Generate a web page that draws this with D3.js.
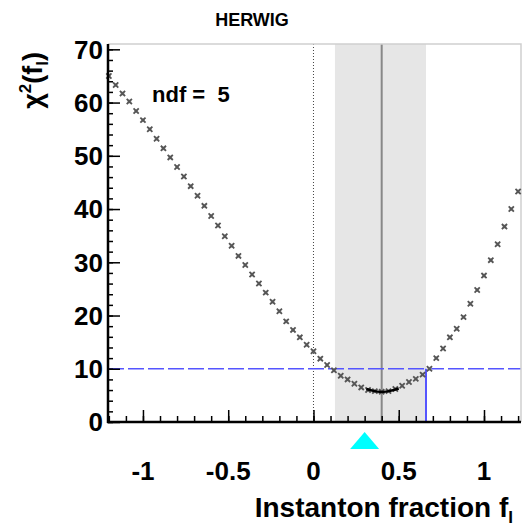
<!doctype html>
<html>
<head>
  <meta charset="utf-8">
  <title>HERWIG chi2 scan</title>
  <style>
    body { margin: 0; background: #fff; }
    text { font-family: 'Liberation Sans', Arial, sans-serif; }
    .tick-label { font-size: 26px; font-weight: bold; fill: #000; }
  </style>
</head>
<body>
  <div id="chart"></div>
  <script src="https://cdnjs.cloudflare.com/ajax/libs/d3/7.8.5/d3.min.js"></script>
  <script>
    // scan points (instanton fraction, chi2)
    var frac = [-1.20, -1.16, -1.12, -1.08, -1.04, -1.00, -0.96, -0.92, -0.88, -0.84,
      -0.80, -0.76, -0.72, -0.68, -0.64, -0.60, -0.56, -0.52, -0.48, -0.44,
      -0.40, -0.36, -0.32, -0.28, -0.24, -0.20, -0.16, -0.12, -0.08, -0.04,
      0.00, 0.04, 0.08, 0.12, 0.16, 0.20, 0.24, 0.28, 0.32, 0.36,
      0.40, 0.44, 0.48, 0.52, 0.56, 0.60, 0.64, 0.68, 0.72, 0.76,
      0.80, 0.84, 0.88, 0.92, 0.96, 1.00, 1.04, 1.08, 1.12, 1.16, 1.20];
    var chi2 = [65.0, 63.3, 61.7, 60.2, 58.4, 56.7, 55.0, 53.2, 51.4, 49.7,
      47.9, 46.1, 44.3, 42.5, 40.6, 38.7, 36.9, 34.9, 33.1, 31.2,
      29.5, 27.7, 26.0, 24.3, 22.6, 20.8, 18.9, 17.3, 15.9, 14.5,
      13.3, 11.9, 10.7, 9.7, 8.7, 8.0, 7.2, 6.5, 6.0, 5.8,
      5.7, 5.8, 6.2, 6.8, 7.5, 8.1, 8.9, 10.0, 12.0, 13.8,
      15.9, 17.5, 19.7, 22.2, 24.8, 27.5, 30.4, 33.4, 36.7, 40.0, 43.3];

    // local fit around the minimum
    var fitF = [0.31, 0.35, 0.40, 0.45, 0.50];
    var fitChi2 = [6.2, 5.85, 5.65, 5.85, 6.3];

    var bestFit = 0.40;
    var bandLow = 0.126, bandHigh = 0.66;
    var chi2Cut = 10;
    var markerF = 0.30;
    var ndf = 5;

    var xTicks = [-1, -0.5, 0, 0.5, 1];
    var yTicks = [0, 10, 20, 30, 40, 50, 60, 70];

    var width = 523, height = 527;
    var x = d3.scaleLinear().domain([-1.205, 1.217]).range([108, 521]);
    var y = d3.scaleLinear().domain([0, 71]).range([422, 44]);

    var svg = d3.select("#chart").append("svg").attr("width", width).attr("height", height);

    // uncertainty band and reference lines
    svg.append("rect")
      .attr("x", x(bandLow)).attr("y", y(71))
      .attr("width", x(bandHigh) - x(bandLow)).attr("height", y(0) - y(71))
      .attr("fill", "#e6e6e6");

    svg.append("line")
      .attr("x1", x(0)).attr("x2", x(0)).attr("y1", y(71)).attr("y2", y(0))
      .attr("stroke", "#444").attr("stroke-width", 1).attr("stroke-dasharray", "1,2");

    svg.append("line")
      .attr("x1", x(bestFit)).attr("x2", x(bestFit)).attr("y1", y(71)).attr("y2", y(0))
      .attr("stroke", "#888").attr("stroke-width", 2);

    svg.append("line")
      .attr("x1", x(-1.205)).attr("x2", x(1.217)).attr("y1", y(chi2Cut)).attr("y2", y(chi2Cut))
      .attr("stroke", "#5555ff").attr("stroke-width", 1.6).attr("stroke-dasharray", "16,4");

    svg.append("line")
      .attr("x1", x(bandHigh)).attr("x2", x(bandHigh)).attr("y1", y(chi2Cut)).attr("y2", y(0))
      .attr("stroke", "#5555ff").attr("stroke-width", 2);

    // frame top/right
    svg.append("path")
      .attr("d", `M${x(-1.205)},${y(71)}H${x(1.217)}V${y(0)}`)
      .attr("fill", "none").attr("stroke", "#cfcfcf").attr("stroke-width", 1.5);

    // scan markers
    var pts = frac.map((f, i) => ({ f: f, c: chi2[i] }));
    var s = 2.6;
    var markers = svg.append("g");
    markers.selectAll("rect")
      .data(pts)
      .join("rect")
      .attr("x", d => x(d.f) - 2).attr("y", d => y(d.c) - 2)
      .attr("width", 4).attr("height", 4)
      .attr("fill", "#bbb");
    markers.selectAll("path")
      .data(pts)
      .join("path")
      .attr("d", d => {
        var px = x(d.f), py = y(d.c);
        return `M${px - s},${py - s}L${px + s},${py + s}M${px - s},${py + s}L${px + s},${py - s}`;
      })
      .attr("stroke", "#555").attr("stroke-width", 1.8).attr("fill", "none");

    // fit curve
    svg.append("path")
      .datum(fitF.map((f, i) => [f, fitChi2[i]]))
      .attr("d", d3.line().x(d => x(d[0])).y(d => y(d[1])).curve(d3.curveNatural))
      .attr("fill", "none").attr("stroke", "#000").attr("stroke-width", 2.5);

    // axes (ROOT style: ticks pointing inward)
    var yAxis = svg.append("g").attr("transform", `translate(${x(-1.205)},0)`);
    yAxis.call(d3.axisRight(y).tickValues(d3.range(0, 71, 2)).tickSize(5).tickFormat(""))
      .call(g => g.select(".domain").remove());
    yAxis.append("g").call(d3.axisRight(y).tickValues(yTicks).tickSize(12).tickFormat(""))
      .call(g => g.select(".domain").remove());
    yAxis.selectAll(".tick line").attr("stroke", "#000").attr("stroke-width", 1.5);
    yAxis.append("line").attr("y1", y(71)).attr("y2", y(0) + 1).attr("stroke", "#000").attr("stroke-width", 2.5);
    yAxis.selectAll(".ylab").data(yTicks).join("text")
      .attr("class", "tick-label ylab")
      .attr("x", -5).attr("y", d => y(d)).attr("dy", "0.36em")
      .attr("text-anchor", "end")
      .text(d => d);

    var xAxis = svg.append("g").attr("transform", `translate(0,${y(0)})`);
    xAxis.call(d3.axisTop(x).tickValues(d3.range(-12, 13, 1).map(v => v / 10)).tickSize(6).tickFormat(""))
      .call(g => g.select(".domain").remove());
    xAxis.append("g").call(d3.axisTop(x).tickValues(xTicks).tickSize(12).tickFormat(""))
      .call(g => g.select(".domain").remove());
    xAxis.selectAll(".tick line").attr("stroke", "#000").attr("stroke-width", 1.5);
    xAxis.append("line").attr("x1", x(-1.205) - 1).attr("x2", x(1.217)).attr("stroke", "#000").attr("stroke-width", 2.5);
    xAxis.selectAll(".xlab").data(xTicks).join("text")
      .attr("class", "tick-label xlab")
      .attr("x", d => x(d)).attr("y", 58)
      .attr("text-anchor", "middle")
      .text(d => d);

    // best value marker
    var tx = x(markerF);
    svg.append("path")
      .attr("d", `M${tx},432L${tx + 14.5},449L${tx - 14.5},449Z`)
      .attr("fill", "#00ffff");

    // titles
    svg.append("text")
      .attr("x", 252).attr("y", 26).attr("text-anchor", "middle")
      .attr("font-size", 18).attr("font-weight", "bold")
      .text("HERWIG");

    svg.append("text")
      .attr("x", 152).attr("y", 102)
      .attr("font-size", 22).attr("font-weight", "bold")
      .attr("xml:space", "preserve")
      .text("ndf =  " + ndf);

    var xt = svg.append("text")
      .attr("x", 513).attr("y", 517).attr("text-anchor", "end")
      .attr("font-size", 28).attr("font-weight", "bold");
    xt.append("tspan").text("Instanton fraction f");
    xt.append("tspan").attr("font-size", 17).attr("dy", 6).text("I");

    var yt = svg.append("text")
      .attr("transform", "translate(42,52) rotate(-90)")
      .attr("text-anchor", "end")
      .attr("font-size", 27).attr("font-weight", "bold");
    yt.append("tspan").text("\u03c7");
    yt.append("tspan").attr("font-size", 17).attr("dy", -11).text("2");
    yt.append("tspan").attr("dy", 11).text("(f");
    yt.append("tspan").attr("font-size", 17).attr("dy", 6).text("I");
    yt.append("tspan").attr("dy", -6).text(")");
  </script>
</body>
</html>
